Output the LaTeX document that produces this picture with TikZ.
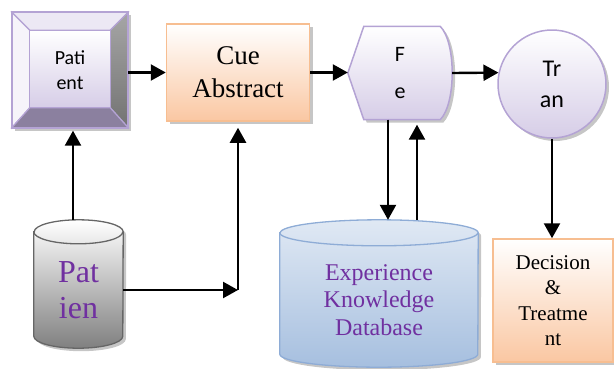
\documentclass[tikz,border=0pt]{standalone}
\usepackage{fontspec}
\setmainfont{Liberation Serif}
\newfontfamily\timesf{Liberation Serif}
\newfontfamily\calibri{Carlito}
\usetikzlibrary{arrows.meta}
\usetikzlibrary{shadows}
\usetikzlibrary{backgrounds}
\definecolor{lav}{HTML}{B4A3D4}
\definecolor{lavfill}{HTML}{D6CDE7}
\definecolor{peach}{HTML}{F7BE91}
\definecolor{peachfill}{HTML}{FAC7A2}
\definecolor{dbline}{HTML}{8EACD6}
\definecolor{dbfill}{HTML}{A6BFDF}
\definecolor{txtpurple}{HTML}{7030A0}
\tikzset{
	arr/.style={line width=2.4pt, -{Triangle[length=15pt,width=16pt]}},
	shade3/.style={drop shadow={shadow xshift=3pt, shadow yshift=-3pt, fill=gray, opacity=0.45}},
	peachbox/.style={draw=peach, line width=1.5pt, top color=white, bottom color=peachfill, inner sep=0pt, shade3},
	lavshape/.style={draw=lav, line width=1.5pt, top color=white, bottom color=lavfill, shade3},
}

\begin{document}
\begin{tikzpicture}[x=1pt,y=-1pt]
		\useasboundingbox (0,0) rectangle (614,368);
		\node (pbox) [minimum width=116pt, minimum height=115pt, inner sep=0pt, align=center, font=\calibri\fontsize{20}{25}\selectfont] at (70,70) {Pati\\ent};
		\node (cue) [peachbox, minimum width=143pt, minimum height=97pt, align=center, font=\timesf\fontsize{27}{33}\selectfont] at (238,72.5) {Cue\\Abstract};
		\node (fe) [minimum width=104pt, minimum height=93pt, inner sep=0pt, align=center, font=\calibri\fontsize{22}{36.5}\selectfont] at (400,73) {F\\e};
		\node (tran) [circle, lavshape, minimum size=108pt, inner sep=0pt, align=center, font=\calibri\fontsize{24}{31}\selectfont] at (552,84) {Tr\\an};
		\node (dec) [peachbox, minimum width=120pt, minimum height=123pt, align=center, font=\timesf\fontsize{21}{25.3}\selectfont] at (553,300.5) {Decision\\\&\\Treatme\\nt};
		\node (pdb) [minimum width=89pt, minimum height=116pt, inner sep=0pt, align=center, text=txtpurple, font=\timesf\fontsize{32}{36}\selectfont] at (78.5,290) {Pat\\ien};
		\node (kdb) [minimum width=198pt, minimum height=134pt, inner sep=0pt, align=center, text=txtpurple, font=\timesf\fontsize{24}{27.5}\selectfont] at (379,300) {Experience\\Knowledge\\Database};
		%
		\begin{scope}[on background layer]
			% bevel box
			\fill[gray, opacity=0.45] ([shift={(3pt,-3pt)}]pbox.north west) rectangle ([shift={(3pt,-3pt)}]pbox.south east);
			\coordinate (a) at ([shift={(18pt,-18pt)}]pbox.north west);
			\coordinate (b) at ([shift={(-18pt,-18pt)}]pbox.north east);
			\coordinate (c) at ([shift={(-18pt,20pt)}]pbox.south east);
			\coordinate (d) at ([shift={(18pt,20pt)}]pbox.south west);
			\filldraw[draw=lav, line width=1.2pt, fill=lav!25] (pbox.north west) -- (pbox.north east) -- (b) -- (a) -- cycle;
			\filldraw[draw=lav, line width=1.2pt, fill=lav!12] (pbox.north west) -- (a) -- (d) -- (pbox.south west) -- cycle;
			\filldraw[draw=lav, line width=1.2pt, top color=black!35, bottom color=black!55] (pbox.north east) -- (pbox.south east) -- (c) -- (b) -- cycle;
			\filldraw[draw=lav, line width=1.2pt, fill=black!30!lav!90] (pbox.south west) -- (d) -- (c) -- (pbox.south east) -- cycle;
			\filldraw[draw=lav, line width=1.2pt, top color=white, bottom color=lavfill] (a) -- (b) -- (c) -- (d) -- cycle;
			\draw[lav, line width=1.8pt] (pbox.north west) rectangle (pbox.south east);
			% F shape
			\path[lavshape] (fe.west) -- ([xshift=16pt]fe.north west) -- ([xshift=-12pt]fe.north east)
				.. controls ([shift={(4pt,-16pt)}]fe.north east) and ([shift={(4pt,16pt)}]fe.south east) .. ([xshift=-12pt]fe.south east)
				-- ([xshift=16pt]fe.south west) -- cycle;
			% cylinders
			\path[draw=black!60, line width=1.3pt, top color=white, bottom color=black!50, shade3] (pdb.north west) -- ([yshift=12pt]pdb.south west)
				arc[start angle=180, end angle=360, x radius=44.5pt, y radius=12pt] -- (pdb.north east)
				arc[start angle=0, end angle=180, x radius=44.5pt, y radius=12pt] -- cycle;
			\draw[black!60, line width=1.3pt] (pdb.north west) arc[start angle=180, end angle=360, x radius=44.5pt, y radius=12pt];
			\path[draw=dbline, line width=1.3pt, top color=dbfill!35, bottom color=dbfill, shade3] (kdb.north west) -- ([yshift=13pt]kdb.south west)
				arc[start angle=180, end angle=360, x radius=99pt, y radius=13pt] -- (kdb.north east)
				arc[start angle=0, end angle=180, x radius=99pt, y radius=13pt] -- cycle;
			\draw[dbline, line width=1.3pt] (kdb.north west) arc[start angle=180, end angle=360, x radius=99pt, y radius=13pt];
		\end{scope}
		%
		\coordinate (pdbtop) at ([yshift=12pt]pdb.north);
		\coordinate (kdbtop) at ([yshift=13pt]kdb.north);
		\coordinate (corner) at (pdb.east -| cue.south);
		\draw[arr] (pbox.east |- cue.west) -- (cue.west);
		\draw[arr] (cue.east) -- (cue.east -| fe.west);
		\draw[arr] (fe.east) -- (tran.168);
		\draw[arr] (tran.south) -- (tran.south |- dec.north);
		\draw[arr] ([xshift=3pt]pbox.south |- pdbtop) -- ([shift={(3pt,-3pt)}]pbox.south);
		\draw[arr] (pdb.east) -- (corner);
		\draw[arr] (corner) -- ([yshift=-6pt]cue.south);
		\draw[arr] ([xshift=-12pt]fe.south) -- ([xshift=-12pt]fe.south |- kdbtop);
		\draw[arr] ([xshift=17pt]fe.south |- kdbtop) -- ([shift={(17pt,-5pt)}]fe.south);
	\end{tikzpicture}
\end{document}
